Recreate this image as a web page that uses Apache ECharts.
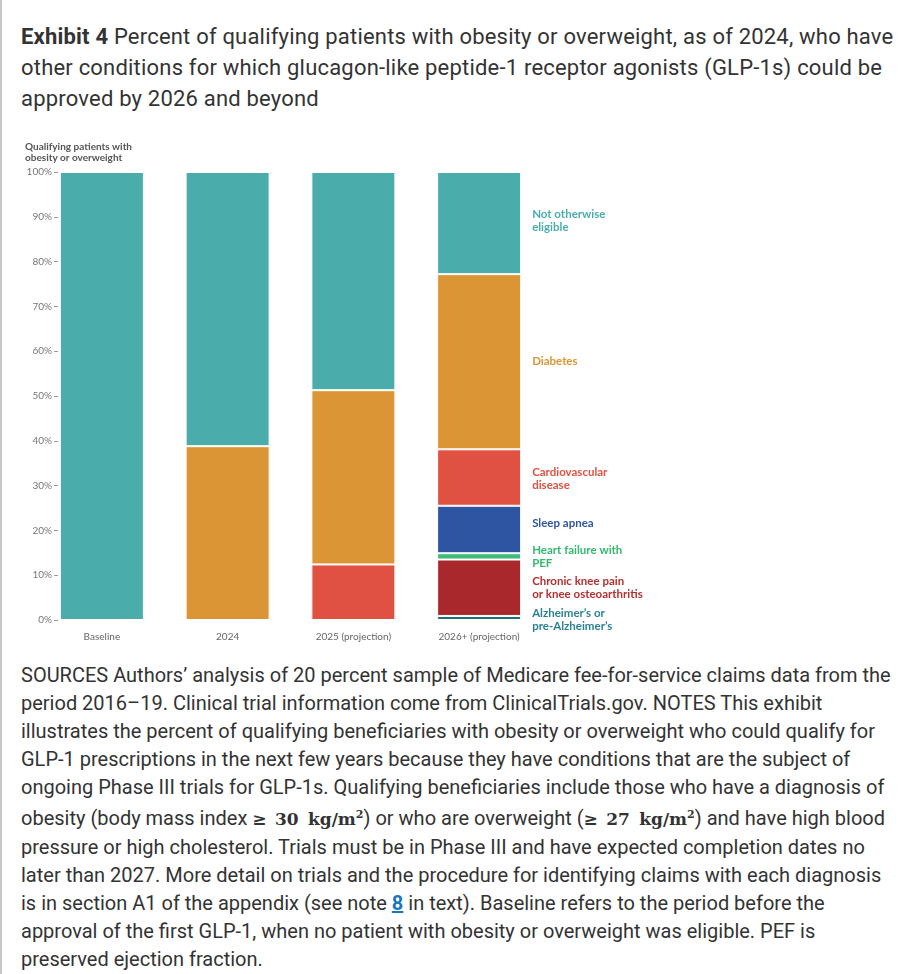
<!DOCTYPE html>
<html>
<head>
<meta charset="utf-8">
<script src="https://cdn.jsdelivr.net/npm/echarts@6/dist/echarts.min.js"></script>
<style>
  body {
    margin: 0;
    background: #fff;
    font-family: Roboto, "Noto Sans", sans-serif;
    color: #333;
  }
  .page {
    position: relative;
    width: 911px;
    height: 974px;
    border-left: 2px solid #c8c8c8;
    box-sizing: border-box;
    overflow: hidden;
  }
  .title {
    position: absolute;
    left: 19px;
    top: 21px;
    font-size: 22px;
    letter-spacing: 0.2px;
    line-height: 31px;
    white-space: nowrap;
  }
  .title b { font-weight: 700; }
  #chart {
    position: absolute;
    left: -2px;
    top: 130px;
    width: 911px;
    height: 520px;
  }
  .notes {
    position: absolute;
    left: 19px;
    top: 661px;
    font-size: 20px;
    line-height: 28px;
    white-space: nowrap;
  }
  .math {
    font-family: "DejaVu Serif", "Liberation Serif", serif;
    font-weight: bold;
    font-size: 17px;
  }
  .math sup { font-size: 11px; }
  .notes a {
    color: #1b75bb;
    font-weight: bold;
  }
</style>
</head>
<body>
<div class="page">
  <div class="title">
    <b>Exhibit 4</b> Percent of qualifying patients with obesity or overweight, as of 2024, who have<br>
    other conditions for which glucagon-like peptide-1 receptor agonists (GLP-1s) could be<br>
    approved by 2026 and beyond
  </div>
  <div id="chart"></div>
  <div class="notes">
    SOURCES Authors’ analysis of 20 percent sample of Medicare fee-for-service claims data from the<br>
    period 2016–19. Clinical trial information come from ClinicalTrials.gov. NOTES This exhibit<br>
    illustrates the percent of qualifying beneficiaries with obesity or overweight who could qualify for<br>
    GLP-1 prescriptions in the next few years because they have conditions that are the subject of<br>
    ongoing Phase III trials for GLP-1s. Qualifying beneficiaries include those who have a diagnosis of<br>
    obesity (body mass index <span class="math">≥&ensp;30&thinsp; kg/m<sup>2</sup></span>) or who are overweight (<span class="math">≥&ensp;27&thinsp; kg/m<sup>2</sup></span>) and have high blood<br>
    pressure or high cholesterol. Trials must be in Phase III and have expected completion dates no<br>
    later than 2027. More detail on trials and the procedure for identifying claims with each diagnosis<br>
    is in section A1 of the appendix (see note <a href="#">8</a> in text). Baseline refers to the period before the<br>
    approval of the first GLP-1, when no patient with obesity or overweight was eligible. PEF is<br>
    preserved ejection fraction.
  </div>
</div>

<script>
// categories and values (percent of qualifying patients), stacked bottom -> top
const categories = ['Baseline', '2024', '2025 (projection)', '2026+ (projection)'];
const yTicks = [0, 10, 20, 30, 40, 50, 60, 70, 80, 90, 100];

const alzheimers = [null, null, null, 0.9];
const kneePain = [null, null, null, 12.6];
const heartFailure = [null, null, null, 1.4];
const sleepApnea = [null, null, null, 10.6];
const cardiovascular = [null, null, 12.4, 12.6];
const diabetes = [null, 38.8, 38.9, 39.1];
const notEligible = [100, 61.2, 48.7, 22.8];

const seriesDefs = [
  { name: 'Alzheimer’s or\npre-Alzheimer’s', data: alzheimers, color: '#1f6e7a', text: '#2a8290', dy: 2 },
  { name: 'Chronic knee pain\nor knee osteoarthritis', data: kneePain, color: '#a8282b', text: '#b2302f', dy: 0 },
  { name: 'Heart failure with\nPEF', data: heartFailure, color: '#3dbb78', text: '#35b870', dy: 0 },
  { name: 'Sleep apnea', data: sleepApnea, color: '#2d55a1', text: '#2d55a1', dy: -6 },
  { name: 'Cardiovascular\ndisease', data: cardiovascular, color: '#e05141', text: '#e05141', dy: 1 },
  { name: 'Diabetes', data: diabetes, color: '#dc9535', text: '#dc9535', dy: 0 },
  { name: 'Not otherwise\neligible', data: notEligible, color: '#4aadac', text: '#4aadac', dy: -2 }
];

const chart = echarts.init(document.getElementById('chart'));

chart.setOption({
  animation: false,
  title: {
    text: 'Qualifying patients with\nobesity or overweight',
    left: 20,
    top: 6,
    textStyle: {
      fontFamily: 'Lato',
      fontSize: 10,
      fontWeight: 'bold',
      color: '#555',
      lineHeight: 11
    }
  },
  grid: {
    left: 39,
    right: 369,
    top: 42,
    bottom: 30
  },
  xAxis: {
    type: 'category',
    data: categories,
    axisLine: { show: false },
    axisTick: { show: false },
    axisLabel: {
      margin: 12,
      fontFamily: 'Lato',
      fontSize: 10,
      color: '#666'
    }
  },
  yAxis: {
    type: 'value',
    min: 0,
    max: 100,
    interval: 10,
    offset: -19,
    splitLine: { show: false },
    axisLine: { show: false },
    axisTick: { show: true, length: 4, lineStyle: { color: '#999' } },
    axisLabel: {
      margin: 6,
      fontFamily: 'Lato',
      fontSize: 10,
      color: '#777',
      formatter: v => yTicks.includes(v) ? v + '%' : ''
    }
  },
  series: seriesDefs.map(s => ({
    name: s.name,
    type: 'bar',
    stack: 'total',
    barWidth: 84,
    data: s.data,
    itemStyle: {
      color: s.color,
      borderColor: '#fff',
      borderWidth: 1
    },
    label: {
      show: true,
      position: 'right',
      distance: 11,
      offset: [0, s.dy],
      align: 'left',
      fontFamily: 'Lato',
      fontSize: 11.5,
      fontWeight: 'bold',
      lineHeight: 13,
      color: s.text,
      formatter: p => p.dataIndex === 3 ? s.name : ''
    }
  }))
});
</script>
</body>
</html>
